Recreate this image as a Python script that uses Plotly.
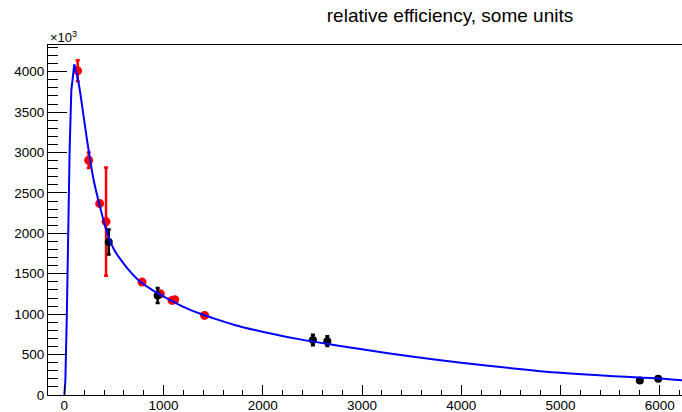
import plotly.graph_objects as go

# Fitted efficiency curve (values in units of 10^3)
curve_x = [0, 10, 25, 30, 43, 53, 70, 100, 130, 161, 229, 295, 363, 430, 500,
           564, 650, 766, 900, 1035, 1200, 1370, 1500, 1706, 2042, 2378, 2700,
           3000, 3500, 4000, 4500, 5000, 5500, 6000, 6230]
curve_y = [0, 180, 1000, 1420, 1910, 3030, 3770, 4090, 3950, 3730, 3150, 2660,
           2310, 2010, 1800, 1680, 1545, 1400, 1288, 1195, 1090, 1005, 950, 870,
           770, 688, 622, 565, 475, 398, 332, 274, 234, 204, 182]
peak_index = 7  # rising edge drawn straight, decaying tail smoothed

# Source A measurements
red_x = [134, 245, 356, 420, 783, 967, 1085, 1112, 1413]
red_y = [4010, 2904, 2368, 2145, 1397, 1253, 1170, 1178, 985]
red_err = [130, 95, 20, 670, 20, 20, 20, 20, 20]

# Source B measurements
blk_x = [447, 940, 2505, 2650, 5800, 5985]
blk_y = [1892, 1232, 680, 666, 180, 200]
blk_err = [155, 93, 65, 60, 15, 15]

font_family = "Liberation Sans, Arial, Helvetica, sans-serif"
tick_size = 13.5

fig = go.Figure()

fig.add_trace(go.Scatter(
    x=red_x, y=red_y, mode="markers",
    marker=dict(color="#ff0000", size=9, symbol="circle"),
    error_y=dict(type="data", array=red_err, color="#ff0000",
                 thickness=2.5, width=2),
    showlegend=False,
))

fig.add_trace(go.Scatter(
    x=blk_x, y=blk_y, mode="markers",
    marker=dict(color="#000000", size=8, symbol="circle"),
    error_y=dict(type="data", array=blk_err, color="#000000",
                 thickness=2.5, width=2),
    showlegend=False,
))

fig.add_trace(go.Scatter(
    x=curve_x[:peak_index + 1], y=curve_y[:peak_index + 1], mode="lines",
    line=dict(color="#0000ff", width=2),
    showlegend=False,
))
fig.add_trace(go.Scatter(
    x=curve_x[peak_index:], y=curve_y[peak_index:], mode="lines",
    line=dict(color="#0000ff", width=2, shape="spline", smoothing=0.8),
    showlegend=False,
))

fig.update_layout(
    width=682, height=412,
    margin=dict(l=48, r=0, t=45, b=17),
    paper_bgcolor="white", plot_bgcolor="white",
    font=dict(family=font_family, size=tick_size, color="black"),
    title=dict(text="relative efficiency, some units",
               x=450 / 682, xanchor="center",
               y=1 - 15 / 412, yanchor="middle",
               font=dict(family=font_family, size=19, color="black")),
    annotations=[dict(
        text="×10<sup>3</sup>", xref="paper", yref="paper",
        x=0, y=1 + 8 / 350, xanchor="left", yanchor="middle",
        showarrow=False, font=dict(family=font_family, size=13, color="black"),
    )],
)

fig.update_xaxes(
    range=[-165, 6225], automargin=False,
    showgrid=False, zeroline=False,
    showline=True, linecolor="black", linewidth=1, mirror=True,
    ticks="inside", ticklen=10, tickcolor="black", tickwidth=1,
    tick0=0, dtick=1000, ticklabelstandoff=-2,
    minor=dict(ticks="inside", ticklen=5, dtick=200, tick0=0,
               tickcolor="black", tickwidth=1),
    tickfont=dict(size=tick_size),
)

fig.update_yaxes(
    range=[0, 4330], automargin=False,
    showgrid=False, zeroline=False,
    showline=True, linecolor="black", linewidth=1,
    ticks="inside", ticklen=19, tickcolor="black", tickwidth=1,
    tick0=0, dtick=500,
    minor=dict(ticks="inside", ticklen=10, dtick=100, tick0=0,
               tickcolor="black", tickwidth=1),
    tickfont=dict(size=tick_size),
)

fig.write_html("out.html")
